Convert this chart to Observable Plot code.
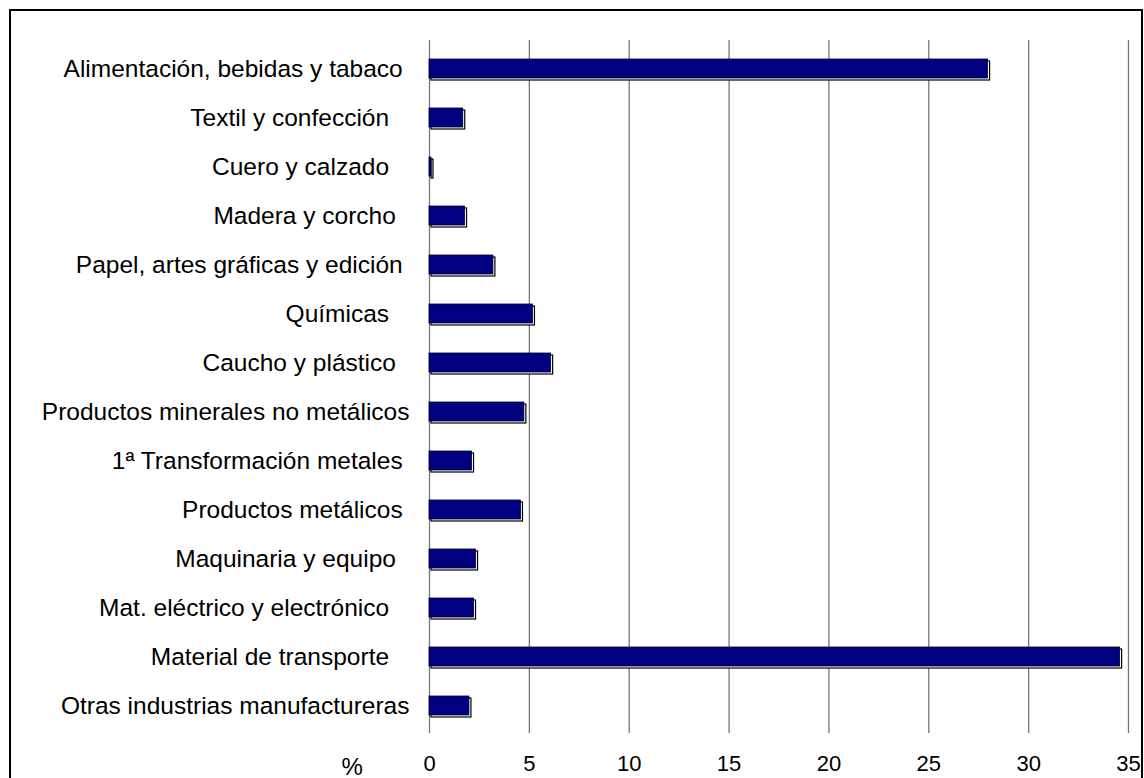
<!DOCTYPE html>
<html>
<head>
<meta charset="utf-8">
<script src="https://cdn.jsdelivr.net/npm/d3@7"></script>
<script src="https://cdn.jsdelivr.net/npm/@observablehq/plot@0.6"></script>
<style>
  html, body { margin: 0; padding: 0; background: #fff; overflow: hidden; }
  #chart { width: 1144px; height: 778px; }
</style>
</head>
<body>
<div id="chart"></div>
<script>
const NB = "\u00a0";
const categories = [
  "Alimentación, bebidas y tabaco" + NB,
  "Textil y confección" + NB + NB + NB,
  "Cuero y calzado" + NB + NB + NB,
  "Madera y corcho" + NB + NB,
  "Papel, artes gráficas y edición" + NB,
  "Químicas" + NB + NB + NB,
  "Caucho y plástico" + NB + NB,
  "Productos minerales no metálicos",
  "1ª Transformación metales" + NB,
  "Productos metálicos" + NB,
  "Maquinaria y equipo" + NB + NB,
  "Mat. eléctrico y electrónico" + NB + NB + NB,
  "Material de transporte" + NB + NB + NB,
  "Otras industrias manufactureras"
];
const values = [27.97, 1.69, 0.1, 1.78, 3.2, 5.18, 6.09, 4.75, 2.13, 4.58, 2.33, 2.23, 34.58, 2.0];
const xTicks = [0, 5, 10, 15, 20, 25, 30, 35];
const axisLabel = "%";

const data = categories.map((c, i) => ({ cat: c, value: values[i] }));

const chart = Plot.plot({
  width: 1144,
  height: 778,
  marginLeft: 429,
  marginRight: 16,
  marginTop: 40,
  marginBottom: 45,
  style: { fontFamily: "Liberation Sans, Arial, sans-serif", fontSize: "24px", color: "#000", background: "#fff", overflow: "visible" },
  x: { domain: [0, 35] },
  y: { domain: categories, paddingInner: 0.62, paddingOuter: 0.31 },
  marks: [
    Plot.ruleX(xTicks, { stroke: "#777", strokeWidth: 1.3 }),
    Plot.barX(data, { x: "value", y: "cat", dx: 2, dy: 2, fill: "#fff", stroke: "#000", strokeWidth: 1.2 }),
    Plot.barX(data, { x: "value", y: "cat", fill: "#000080", stroke: "#000030", strokeWidth: 0.8 }),
    Plot.axisY({ tickSize: 0, tickPadding: 20, fontSize: 24.5, label: null }),
    Plot.axisX({ ticks: xTicks, tickSize: 0, tickPadding: 22, fontSize: 22, label: null }),
    Plot.text([axisLabel], { frameAnchor: "bottom-left", dx: -88, dy: 34, fontSize: 24, lineAnchor: "middle", fill: "#000" })
  ]
});

document.getElementById("chart").appendChild(chart);
d3.select(chart).append("rect")
  .attr("x", 10).attr("y", 10)
  .attr("width", 1132).attr("height", 800)
  .attr("fill", "none").attr("stroke", "#000").attr("stroke-width", 2);
</script>
</body>
</html>
